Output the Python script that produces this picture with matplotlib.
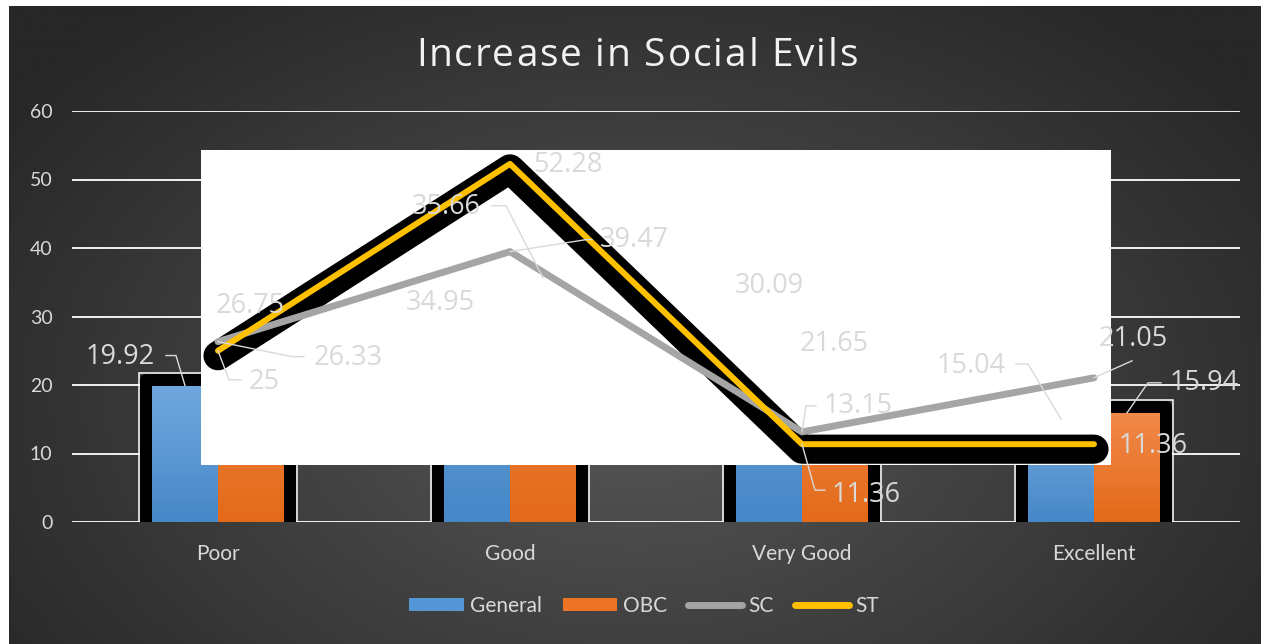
import numpy as np
import matplotlib
matplotlib.use('Agg')
import matplotlib.pyplot as plt
from matplotlib.patches import Rectangle, Patch
from matplotlib.lines import Line2D
from matplotlib.colors import LinearSegmentedColormap
from matplotlib.transforms import offset_copy, IdentityTransform
from matplotlib.font_manager import FontProperties, findfont, get_font

# ---------------- data ----------------
categories = ['Poor', 'Good', 'Very Good', 'Excellent']
general = [19.92, 34.95, 30.09, 15.04]
obc = [26.75, 35.66, 21.65, 15.94]
sc = [26.33, 39.47, 13.15, 21.05]
st = [25, 52.28, 11.36, 11.36]
yticks = [0, 10, 20, 30, 40, 50, 60]
series_names = ['General', 'OBC', 'SC', 'ST']
title = 'Increase in Social Evils'

# ---------------- style ----------------
blue = '#5596d6'
orange = '#ec7424'
gray = '#a5a5a5'
yellow = '#ffc000'
txt = '#d9d9d9'
plt.rcParams['font.family'] = ['Lato', 'DejaVu Sans']

W, H = 1263, 644
fig = plt.figure(figsize=(W / 100, H / 100), dpi=100)
fig.patch.set_facecolor('white')

# dark radial background
bg = fig.add_axes([9 / W, 0, (1261 - 9) / W, (644 - 6) / H])
yy, xx = np.mgrid[0:1:300j, 0:1:600j]
r = np.sqrt(((xx - 0.5) / 0.62) ** 2 + ((yy - 0.62) / 0.8) ** 2)
r = np.clip(r, 0, 1)
c = (0x57 * (1 - r) + 0x27 * r) / 255
bg.imshow(np.dstack([c, c, c]), aspect='auto', extent=[0, 1, 0, 1], origin='upper')
bg.axis('off')

# main axes
ax = fig.add_axes([72 / W, 1 - 522 / H, (1240 - 72) / W, (522 - 111) / H])
ax.set_facecolor('none')
for s in ax.spines.values():
    s.set_visible(False)
ax.set_yticks(yticks)
ax.set_xticks(range(len(categories)))
ax.set_xticklabels(categories)
ax.tick_params(axis='both', length=0, colors=txt)
ax.tick_params(axis='y', labelsize=14, pad=14)
ax.tick_params(axis='x', labelsize=15, pad=16)
ax.grid(axis='y', color='white', lw=1.3)
ax.set_axisbelow(True)

pxx = 4 / 1168.0   # data units per pixel, x
pxy = 60 / 411.0   # data units per pixel, y
w = 66 * pxx
x = np.arange(len(categories))

grad = np.linspace(1, 0, 100).reshape(-1, 1)
cmaps = {
    'General': LinearSegmentedColormap.from_list('g', ['#4787c8', '#70a8de']),
    'OBC': LinearSegmentedColormap.from_list('o', ['#e36a19', '#f2894a']),
}

# bars with black glow and thin white frame
for name, xs, vals, col in [('General', x - w / 2, general, blue), ('OBC', x + w / 2, obc, orange)]:
    for xi, v in zip(xs, vals):
        ax.add_patch(Rectangle((xi - w / 2 - 13 * pxx, -1), w + 26 * pxx, v + 1 + 13 * pxy,
                               fill=False, ec='white', lw=1.1, zorder=2))
    ax.bar(xs, [v + 6 * pxy for v in vals], width=w + 12 * pxx, color='black',
           ec='black', lw=8.6, joinstyle='round', zorder=3)
    bars = ax.bar(xs, vals, width=w, color=col, zorder=4)
    for b in bars:
        im = ax.imshow(grad, extent=[b.get_x(), b.get_x() + b.get_width(), 0, b.get_height()],
                       aspect='auto', cmap=cmaps[name], zorder=4.1)
        im.set_clip_path(b)

ax.set_xlim(-0.5, 3.5)
ax.set_ylim(0, 60)

# stray white plot area
ax.add_patch(Rectangle((-0.058, 8.32), 3.116, 45.98, fc='white', ec='none', zorder=5))

# lines
shadow = offset_copy(ax.transData, fig=fig, x=0, y=-5, units='dots')
ax.plot(x, st, color='black', lw=21, solid_capstyle='round', solid_joinstyle='round',
        transform=shadow, zorder=6)
ax.plot(x, sc, color=gray, lw=5, solid_capstyle='round', solid_joinstyle='round', zorder=7)
ax.plot(x, st, color=yellow, lw=4.3, solid_capstyle='round', solid_joinstyle='round', zorder=8)

# data labels: offsets in pixels (dx right, dy down) from the data point
label_off = {
    'General': [(-65, -28.5), (-37, 20), (0, -30), (-90, -53)],
    'OBC': [(-1, -33), (-97, -70.5), (-1, -30), (77, -30)],
    'SC': [(130.5, 16.5), (124, -12), (56, -26.4), (39, -39)],
    'ST': [(46, 31), (58, 1.6), (64, 51), (59, 2)],
}
leaders = {
    'General': [[(0, 0), (-9, -30), (-19, -30)], None, None, [(0, 0), (-33, -55), (-45, -55)]],
    'OBC': [None, [(0, 0), (-37, -72), (-51, -72)], None, [(0, 0), (21, -30), (34, -30)]],
    'SC': [[(0, 0), (74, 15), (86, 15)], [(0, 0), (76, -12), (82, -12)],
           [(0, 0), (4, -26), (14, -26)], [(0, 0), (38, -17)]],
    'ST': [[(0, 0), (11, 29), (23, 29)], None, [(0, 0), (13, 46), (23, 46)], None],
}
anchors = {'General': x - w / 2, 'OBC': x + w / 2, 'SC': x, 'ST': x}
values = {'General': general, 'OBC': obc, 'SC': sc, 'ST': st}

for name in series_names:
    for i, v in enumerate(values[name]):
        px, py = ax.transData.transform((anchors[name][i], v))
        dx, dy = label_off[name][i]
        lab = '%d' % v if v == int(v) else '%.2f' % v
        fig.text((px + dx) / W, (py - dy) / H, lab, ha='center', va='center',
                 fontsize=19.5, family=['Open Sans', 'DejaVu Sans'], color=txt, zorder=10)
        if leaders[name][i] is not None:
            pts = leaders[name][i]
            ax.plot([px + a for a, b in pts], [py - b for a, b in pts], color=txt, lw=1,
                    transform=IdentityTransform(), clip_on=False, zorder=9)

# title with letter spacing
fp = FontProperties(family='Open Sans', size=28)
font = get_font(findfont(fp))
font.set_size(28, 100)
adv = [font.load_char(ord(ch)).linearHoriAdvance / 65536 for ch in title]
spacing = 1.8
total = sum(adv) + spacing * (len(title) - 1)
xpos = 637 - total / 2
for ch, a in zip(title, adv):
    fig.text(xpos / W, 1 - 66 / H, ch, fontproperties=fp, color='#f2f2f2',
             ha='left', va='baseline')
    xpos += a + spacing

# legend
handles = [Patch(fc=blue), Patch(fc=orange),
           Line2D([], [], color=gray, lw=5, solid_capstyle='round'),
           Line2D([], [], color=yellow, lw=5, solid_capstyle='round')]
fig.legend(handles, series_names, loc='center', bbox_to_anchor=(644 / W, 1 - 606 / H),
           ncol=4, frameon=False, fontsize=15, labelcolor=txt, handlelength=2.6,
           handleheight=0.6, handletextpad=0.3, columnspacing=1.0)

fig.savefig('out.png', dpi=100)
